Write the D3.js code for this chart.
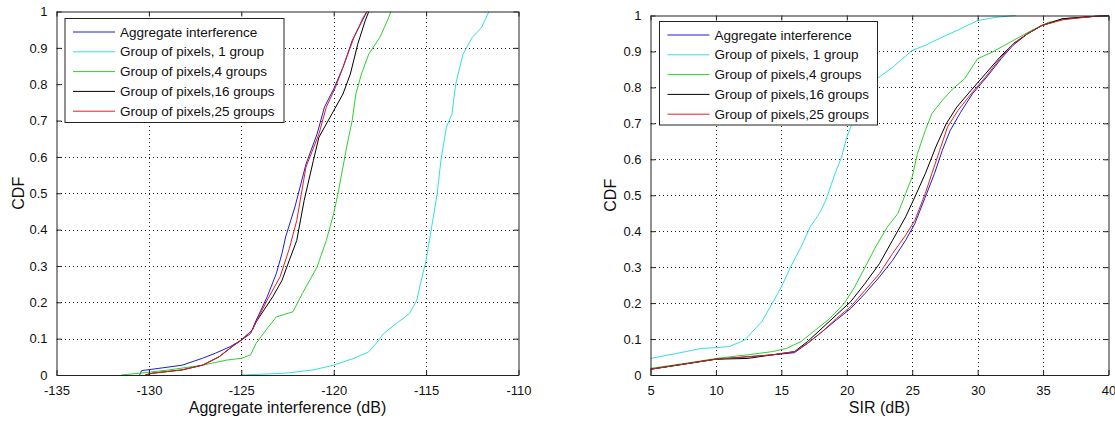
<!DOCTYPE html>
<html>
<head>
<meta charset="utf-8">
<script src="https://d3js.org/d3.v7.min.js"></script>
<style>
  html, body { margin: 0; padding: 0; background: #fff; }
  svg { display: block; font-family: "Liberation Sans", Arial, Helvetica, sans-serif; }
</style>
</head>
<body>
<svg id="chart" width="1115" height="421"></svg>
<script>
// ---- Series names and colours ----
const seriesNames = [
  "Aggregate interference",
  "Group of pixels, 1 group",
  "Group of pixels,4 groups",
  "Group of pixels,16 groups",
  "Group of pixels,25 groups"
];
const seriesColors = ["#1c1cd6", "#35dede", "#2ed02e", "#000000", "#e02020"];

// ---- Ticks ----
const interfTicks = [-135, -130, -125, -120, -115, -110];
const sirTicks = [5, 10, 15, 20, 25, 30, 35, 40];
const cdfTicks = [0, 0.1, 0.2, 0.3, 0.4, 0.5, 0.6, 0.7, 0.8, 0.9, 1];

// ---- CDF of aggregate interference (dB), [x, CDF] ----
const interfAggregate = [
  [-130.5, 0.0], [-130.4, 0.012], [-129.5, 0.018], [-128.2, 0.027], [-127.1, 0.046],
  [-126.4, 0.06], [-125.6, 0.078], [-125.0, 0.096], [-124.5, 0.114], [-124.2, 0.15],
  [-123.6, 0.215], [-123.1, 0.28], [-122.8, 0.334], [-122.6, 0.38], [-122.1, 0.462],
  [-121.5, 0.58], [-120.9, 0.663], [-120.5, 0.737], [-120.0, 0.787], [-119.5, 0.846],
  [-119.0, 0.92], [-118.5, 0.97], [-118.2, 1.0]
];
const interfGroup1 = [
  [-125.0, 0.0], [-122.6, 0.005], [-121.1, 0.014], [-120.0, 0.027], [-118.9, 0.046],
  [-118.1, 0.064], [-117.7, 0.087], [-117.3, 0.114], [-116.6, 0.142], [-115.9, 0.169],
  [-115.5, 0.206], [-115.3, 0.252], [-115.0, 0.316], [-114.7, 0.407], [-114.4, 0.499],
  [-114.2, 0.59], [-113.9, 0.682], [-113.6, 0.718], [-113.4, 0.8], [-113.0, 0.883],
  [-112.5, 0.929], [-112.0, 0.956], [-111.6, 1.0]
];
const interfGroup4 = [
  [-131.5, 0.0], [-130.5, 0.005], [-128.9, 0.014], [-127.1, 0.027], [-125.8, 0.041],
  [-125.0, 0.046], [-124.5, 0.055], [-124.2, 0.087], [-123.6, 0.128], [-123.1, 0.16],
  [-122.2, 0.174], [-121.7, 0.224], [-120.9, 0.297], [-120.4, 0.37], [-120.0, 0.444],
  [-119.7, 0.517], [-119.3, 0.627], [-119.0, 0.7], [-118.8, 0.773], [-118.5, 0.828],
  [-118.1, 0.883], [-117.5, 0.929], [-117.1, 0.974], [-116.9, 1.0]
];
const interfGroup16 = [
  [-130.2, 0.0], [-129.8, 0.005], [-128.2, 0.014], [-127.1, 0.027], [-126.2, 0.05],
  [-125.5, 0.078], [-125.0, 0.096], [-124.4, 0.124], [-124.2, 0.146], [-123.3, 0.215],
  [-122.8, 0.26], [-122.4, 0.316], [-122.0, 0.37], [-121.6, 0.48], [-121.1, 0.59],
  [-120.8, 0.654], [-120.1, 0.718], [-119.5, 0.773], [-119.1, 0.828], [-118.7, 0.91],
  [-118.3, 0.974], [-118.1, 1.0]
];
const interfGroup25 = [
  [-130.2, 0.0], [-129.8, 0.005], [-128.2, 0.014], [-127.1, 0.027], [-126.2, 0.05],
  [-125.5, 0.078], [-125.0, 0.096], [-124.4, 0.124], [-124.2, 0.146], [-123.6, 0.206],
  [-122.9, 0.27], [-122.4, 0.348], [-122.0, 0.425], [-121.5, 0.572], [-120.8, 0.663],
  [-120.4, 0.737], [-119.9, 0.792], [-119.5, 0.846], [-118.9, 0.929], [-118.4, 0.984],
  [-118.2, 1.0]
];

// ---- CDF of SIR (dB), [x, CDF] ----
const sirAggregate = [
  [5, 0.016], [10, 0.044], [14.3, 0.056], [16.0, 0.062], [17.0, 0.088], [18.1, 0.12],
  [19.2, 0.153], [20.3, 0.185], [21.4, 0.227], [22.5, 0.273], [23.5, 0.319],
  [24.5, 0.375], [25.2, 0.421], [26.0, 0.495], [26.7, 0.56], [27.3, 0.625],
  [27.9, 0.68], [28.7, 0.731], [29.6, 0.782], [30.7, 0.829], [31.8, 0.88],
  [32.7, 0.917], [33.8, 0.949], [34.9, 0.972], [36.5, 0.991], [38.7, 0.997], [40, 1.0]
];
const sirGroup1 = [
  [5, 0.046], [7.0, 0.06], [8.9, 0.074], [10, 0.076], [11, 0.079], [12.2, 0.097],
  [12.9, 0.125], [13.5, 0.148], [14.3, 0.199], [15, 0.245], [15.7, 0.3], [16.5, 0.356],
  [17.2, 0.412], [17.9, 0.449], [18.4, 0.486], [19.1, 0.56], [19.6, 0.606], [20.0, 0.662],
  [20.4, 0.699], [21.0, 0.76], [21.6, 0.8], [22.3, 0.824], [23.5, 0.856], [25, 0.903],
  [26, 0.917], [27.3, 0.94], [28.4, 0.958], [30, 0.986], [31.4, 0.995], [32.9, 1.0]
];
const sirGroup4 = [
  [5, 0.0185], [7.6, 0.032], [10, 0.046], [12.4, 0.056], [14.3, 0.065], [15.4, 0.074],
  [16.5, 0.093], [17.6, 0.125], [18.7, 0.157], [19.8, 0.199], [20.6, 0.245], [21.4, 0.3],
  [22.2, 0.356], [23.1, 0.412], [23.9, 0.449], [24.5, 0.505], [25, 0.551], [25.4, 0.616],
  [26.0, 0.68], [26.5, 0.727], [27.3, 0.764], [28.1, 0.796], [29.0, 0.824], [30.0, 0.88],
  [31.1, 0.898], [32.5, 0.926], [34.1, 0.958], [35.4, 0.981], [36.8, 0.991],
  [38.7, 0.997], [40, 1.0]
];
const sirGroup16 = [
  [5, 0.016], [10, 0.044], [12.4, 0.046], [14.3, 0.056], [16.0, 0.065], [17.0, 0.093],
  [18.1, 0.13], [19.2, 0.167], [20.3, 0.204], [21.4, 0.255], [22.5, 0.31], [23.5, 0.375],
  [24.5, 0.44], [25.2, 0.495], [26.0, 0.56], [26.8, 0.634], [27.6, 0.699], [28.4, 0.745],
  [29.5, 0.792], [30.6, 0.838], [31.7, 0.884], [32.7, 0.921], [33.8, 0.949],
  [34.9, 0.972], [36.5, 0.991], [38.7, 0.997], [40, 1.0]
];
const sirGroup25 = [
  [5, 0.016], [10, 0.044], [14.3, 0.056], [16.0, 0.065], [17.0, 0.088], [18.1, 0.12],
  [19.2, 0.157], [20.3, 0.19], [21.4, 0.236], [22.5, 0.282], [23.5, 0.338], [24.5, 0.389],
  [25.2, 0.43], [26.0, 0.505], [26.5, 0.56], [27.1, 0.625], [27.7, 0.69], [28.5, 0.736],
  [29.5, 0.782], [30.6, 0.829], [31.7, 0.88], [32.7, 0.921], [33.8, 0.949],
  [34.9, 0.972], [36.5, 0.988], [38.7, 0.997], [40, 1.0]
];

const svg = d3.select("#chart");
// plain ASCII hyphen for negative tick values
const fmtNum = d => d3.format("~g")(d).replace("\u2212", "-");

function drawPanel(cfg) {
  const x = d3.scaleLinear().domain(cfg.xDomain).range([cfg.left, cfg.right]);
  const y = d3.scaleLinear().domain([0, 1]).range([cfg.bottom, cfg.top]);
  const g = svg.append("g");

  // dotted grid
  const grid = g.append("g").attr("stroke", "#222").attr("stroke-width", 1)
    .attr("stroke-dasharray", "1,3").attr("shape-rendering", "crispEdges");
  cfg.xTicks.slice(1, -1).forEach(t => {
    grid.append("line").attr("x1", Math.round(x(t)) + 0.5).attr("x2", Math.round(x(t)) + 0.5)
      .attr("y1", cfg.bottom).attr("y2", cfg.top);
  });
  cdfTicks.slice(1, -1).forEach(t => {
    grid.append("line").attr("y1", Math.round(y(t)) + 0.5).attr("y2", Math.round(y(t)) + 0.5)
      .attr("x1", cfg.left).attr("x2", cfg.right);
  });

  // curves
  const line = d3.line().x(d => x(d[0])).y(d => y(d[1]));
  cfg.series.forEach((s, i) => {
    g.append("path").datum(s).attr("d", line).attr("fill", "none")
      .attr("stroke", seriesColors[i]).attr("stroke-width", 1);
  });

  // axes with inward ticks on all four sides
  const tickLen = 5;
  const axB = d3.axisBottom(x).tickValues(cfg.xTicks).tickSizeInner(-tickLen).tickSizeOuter(0)
    .tickPadding(8).tickFormat(fmtNum);
  const axT = d3.axisTop(x).tickValues(cfg.xTicks).tickSizeInner(-tickLen).tickSizeOuter(0).tickFormat("");
  const axL = d3.axisLeft(y).tickValues(cdfTicks).tickSizeInner(-tickLen).tickSizeOuter(0).tickPadding(9)
    .tickFormat(fmtNum);
  const axR = d3.axisRight(y).tickValues(cdfTicks).tickSizeInner(-tickLen).tickSizeOuter(0).tickFormat("");

  const styleAxis = sel => {
    sel.selectAll(".domain").attr("stroke", "#222");
    sel.selectAll(".tick line").attr("stroke", "#222");
    sel.selectAll("text").attr("fill", "#111").style("font-size", "13px")
      .style("font-family", '"Liberation Sans", Arial, sans-serif');
  };
  g.append("g").attr("transform", `translate(0,${cfg.bottom})`).call(axB).call(styleAxis)
    .selectAll("text").attr("dy", "0.9em");
  g.append("g").attr("transform", `translate(0,${cfg.top})`).call(axT).call(styleAxis);
  g.append("g").attr("transform", `translate(${cfg.left},0)`).call(axL).call(styleAxis);
  g.append("g").attr("transform", `translate(${cfg.right},0)`).call(axR).call(styleAxis);

  // axis titles
  g.append("text").attr("x", (cfg.left + cfg.right) / 2).attr("y", 413)
    .attr("text-anchor", "middle").style("font-size", "16px").attr("fill", "#111")
    .text(cfg.xLabel);
  g.append("text").attr("transform", `translate(${cfg.yLabelX},${(cfg.top + cfg.bottom) / 2}) rotate(-90)`)
    .attr("text-anchor", "middle").attr("dominant-baseline", "central")
    .style("font-size", "16px").attr("fill", "#111").text("CDF");

  // legend
  const lg = g.append("g");
  lg.append("rect").attr("x", cfg.legend.x).attr("y", cfg.legend.y)
    .attr("width", cfg.legend.w).attr("height", cfg.legend.h)
    .attr("fill", "#fff").attr("stroke", "#222").attr("stroke-width", 1);
  seriesNames.forEach((name, i) => {
    const ry = cfg.legend.y + 13.5 + i * 19.8;
    lg.append("line").attr("x1", cfg.legend.x + 8).attr("x2", cfg.legend.x + 50)
      .attr("y1", ry).attr("y2", ry).attr("stroke", seriesColors[i]).attr("stroke-width", 1);
    lg.append("text").attr("x", cfg.legend.x + 55).attr("y", ry)
      .attr("dominant-baseline", "central").style("font-size", "13.5px").attr("fill", "#111")
      .text(name);
  });
}

drawPanel({
  xDomain: [-135, -110], xTicks: interfTicks,
  left: 56.5, right: 518.5, top: 11.5, bottom: 375,
  series: [interfAggregate, interfGroup1, interfGroup4, interfGroup16, interfGroup25],
  xLabel: "Aggregate interference (dB)", yLabelX: 18,
  legend: { x: 65, y: 18.5, w: 219, h: 104 }
});

drawPanel({
  xDomain: [5, 40], xTicks: sirTicks,
  left: 650.5, right: 1108.5, top: 15.5, bottom: 375,
  series: [sirAggregate, sirGroup1, sirGroup4, sirGroup16, sirGroup25],
  xLabel: "SIR (dB)", yLabelX: 610,
  legend: { x: 659.5, y: 21.5, w: 218, h: 103.5 }
});
</script>
</body>
</html>
